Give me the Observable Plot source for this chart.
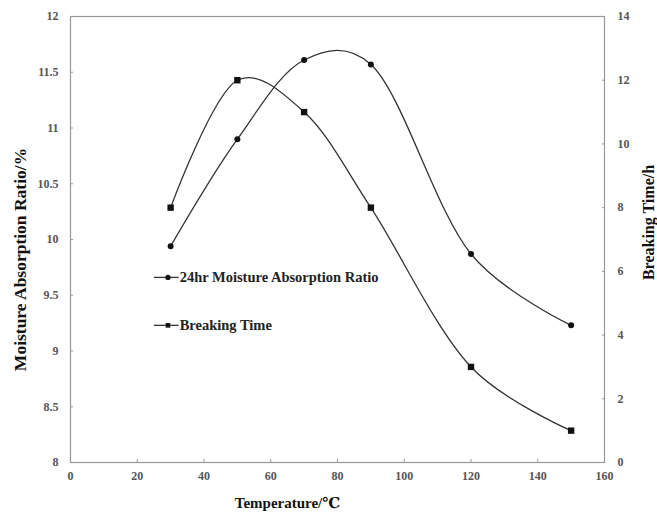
<!DOCTYPE html>
<html>
<head>
<meta charset="utf-8">
<script src="https://cdn.jsdelivr.net/npm/d3@7"></script>
<script src="https://cdn.jsdelivr.net/npm/@observablehq/plot@0.6"></script>
<style>
  html, body { margin: 0; padding: 0; background: #fff; }
  #chart { width: 657px; height: 515px; }
</style>
</head>
<body>
<div id="chart"></div>
<script>
// ---- data ----
const temperatures = [30, 50, 70, 90, 120, 150];
const moistureRatio = [9.94, 10.90, 11.61, 11.57, 9.87, 9.23];   // left axis, %
const breakingTime = [8, 12, 11, 8, 3, 1];                        // right axis, h
const leftTicks = [8, 8.5, 9, 9.5, 10, 10.5, 11, 11.5, 12];
const rightTicks = [0, 2, 4, 6, 8, 10, 12, 14];
const xTicks = [0, 20, 40, 60, 80, 100, 120, 140, 160];
const seriesNames = ["24hr Moisture Absorption Ratio", "Breaking Time"];
const xLabel = "Temperature/\u2103";
const yLeftLabel = "Moisture Absorption Ratio/%";
const yRightLabel = "Breaking Time/h";

// map right axis (0..14) onto the left scale (8..12)
const toLeft = v => 8 + v * (12 - 8) / 14;
const fromLeft = v => (v - 8) * 14 / (12 - 8);

const moisture = temperatures.map((t, i) => ({t, v: moistureRatio[i]}));
const breaking = temperatures.map((t, i) => ({t, v: toLeft(breakingTime[i])}));

// legend entries placed in data space inside the plot
const legend = [
  {name: seriesNames[0], symbol: "circle", y: 9.66},
  {name: seriesNames[1], symbol: "square", y: 9.23}
];
const legX1 = 25, legX2 = 32.4, legXm = 29.2;

const serif = "'Liberation Serif', 'DejaVu Serif', serif";
const lineColor = "#333";
const axisColor = "#999";
const tickColor = "#555";
const curve = d3.curveCatmullRom.alpha(0.25);

const chart = Plot.plot({
  width: 657,
  height: 515,
  marginLeft: 70,
  marginRight: 53,
  marginTop: 16,
  marginBottom: 53,
  style: {fontFamily: serif, fontSize: "12px", background: "#fff", color: tickColor},
  x: {domain: [0, 160]},
  y: {domain: [8, 12]},
  marks: [
    Plot.frame({stroke: axisColor, strokeWidth: 1.2}),
    Plot.axisX({ticks: xTicks, tickSize: -3, tickPadding: 12, tickFormat: d => d, label: null, stroke: axisColor, fill: tickColor, fontSize: 12, fontWeight: "bold"}),
    Plot.axisY({anchor: "left", ticks: leftTicks, tickSize: -3, tickPadding: 15, tickFormat: d => String(d), label: null, stroke: axisColor, fill: tickColor, fontSize: 12, fontWeight: "bold"}),
    Plot.axisY({anchor: "right", ticks: rightTicks.map(toLeft), tickSize: -3, tickPadding: 16, tickFormat: d => String(Math.round(fromLeft(d))), label: null, stroke: axisColor, fill: tickColor, fontSize: 12, fontWeight: "bold", textAnchor: "start"}),
    Plot.line(moisture, {x: "t", y: "v", curve, stroke: lineColor, strokeWidth: 1.3}),
    Plot.line(breaking, {x: "t", y: "v", curve, stroke: lineColor, strokeWidth: 1.3}),
    Plot.dot(moisture, {x: "t", y: "v", symbol: "circle", r: 3, fill: "#111", stroke: null}),
    Plot.dot(breaking, {x: "t", y: "v", symbol: "square", r: 3.6, fill: "#111", stroke: null}),
    // legend
    Plot.link(legend, {x1: legX1, x2: legX2, y1: "y", y2: "y", stroke: lineColor, strokeWidth: 1.3}),
    Plot.dot(legend, {x: legXm, y: "y", symbol: "symbol", r: 2.6, fill: "#111", stroke: null}),
    Plot.text(legend, {x: legX2, y: "y", text: "name", textAnchor: "start", dx: 1, fontWeight: "bold", fontSize: 14.5, fill: "#222", fontFamily: serif}),
    // axis titles
    Plot.text([xLabel], {frameAnchor: "bottom", text: d => d, textAnchor: "middle", dy: 45, dx: -50, fontWeight: "bold", fontSize: 15, fill: "#111", fontFamily: serif}),
    Plot.text([yLeftLabel], {frameAnchor: "left", text: d => d, textAnchor: "middle", rotate: -90, dx: -50, dy: 20, fontWeight: "bold", fontSize: 17.5, fill: "#111", fontFamily: serif}),
    Plot.text([yRightLabel], {frameAnchor: "right", text: d => d, textAnchor: "middle", rotate: -90, dx: 44, dy: -17, fontWeight: "bold", fontSize: 16, fill: "#111", fontFamily: serif})
  ]
});

document.getElementById("chart").appendChild(chart);
</script>
</body>
</html>
